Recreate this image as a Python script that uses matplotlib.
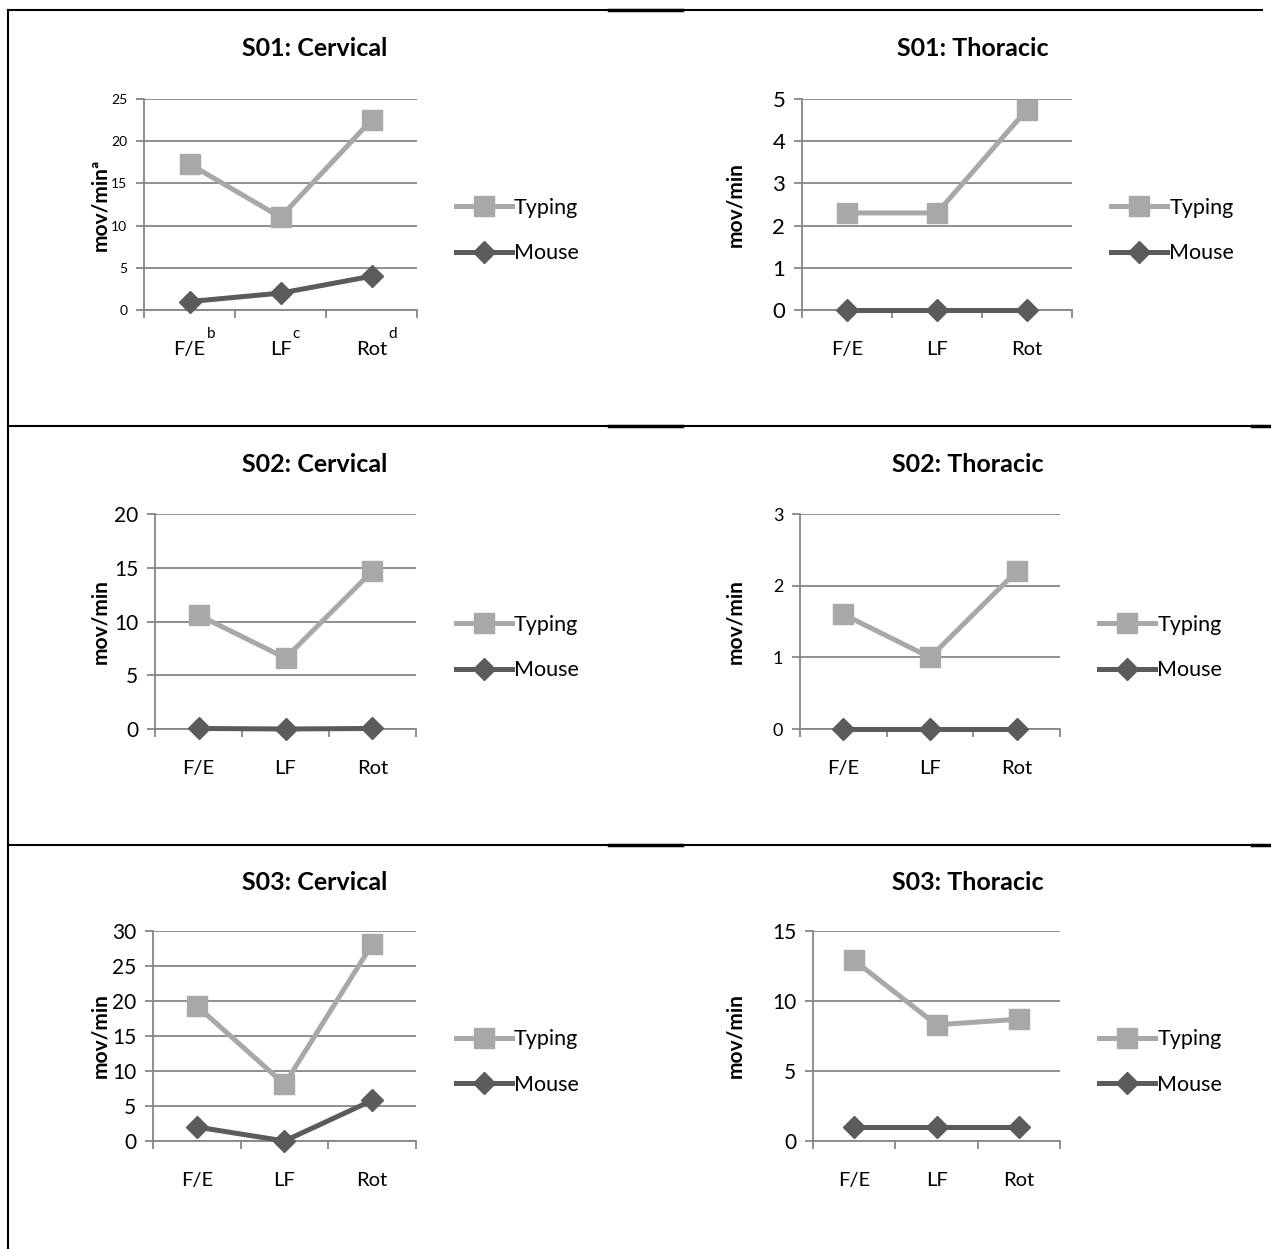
import matplotlib
matplotlib.use("Agg")
import matplotlib.pyplot as plt
from matplotlib.lines import Line2D
from matplotlib.ticker import MultipleLocator, FixedLocator

plt.rcParams['font.family'] = ['Lato', 'DejaVu Sans']

W, H = 1271, 1249

categories = ["F/E", "LF", "Rot"]
s01_supers = ["b", "c", "d"]

s01_cerv_typing = [17.3, 11.0, 22.5]
s01_cerv_mouse = [1.0, 2.0, 4.0]
s01_thor_typing = [2.3, 2.3, 4.75]
s01_thor_mouse = [0.0, 0.0, 0.0]
s02_cerv_typing = [10.6, 6.6, 14.7]
s02_cerv_mouse = [0.05, 0.0, 0.05]
s02_thor_typing = [1.6, 1.0, 2.2]
s02_thor_mouse = [0.0, 0.0, 0.0]
s03_cerv_typing = [19.3, 8.1, 28.1]
s03_cerv_mouse = [2.0, 0.0, 5.8]
s03_thor_typing = [12.9, 8.3, 8.7]
s03_thor_mouse = [1.0, 1.0, 1.0]

TYPING_C = "#a8a8a8"
MOUSE_C = "#5b5b5b"
GRID_C = "#868686"

fig = plt.figure(figsize=(W / 100, H / 100), dpi=100)


def px_axes(x0, x1, ytop, ybot):
    return fig.add_axes([x0 / W, 1 - ybot / H, (x1 - x0) / W, (ybot - ytop) / H])


def panel(box, title, title_x, title_y, typing, mouse, ymax, ystep, ylabel,
          ylabel_x, tick_fs, legend_x):
    x0, x1, ytop, ybot = box
    ax = px_axes(x0, x1, ytop, ybot)
    xs = range(len(categories))
    ax.plot(xs, typing, color=TYPING_C, lw=3.6, marker="s", ms=14,
            label="Typing", zorder=3)
    ax.plot(xs, mouse, color=MOUSE_C, lw=3.6, marker="D", ms=11,
            label="Mouse", zorder=4, clip_on=False)
    ax.set_xlim(-0.5, 2.5)
    ax.set_ylim(0, ymax)
    ax.yaxis.set_major_locator(MultipleLocator(ystep))
    ax.grid(axis="y", color=GRID_C, lw=1.3)
    ax.set_axisbelow(True)
    for s in ["top", "right"]:
        ax.spines[s].set_visible(False)
    for s in ["left", "bottom"]:
        ax.spines[s].set_color(GRID_C)
        ax.spines[s].set_linewidth(1.3)
    ax.set_xticks(list(xs))
    ax.set_xticklabels(categories, fontsize=14.5)
    ax.xaxis.set_minor_locator(FixedLocator([-0.5, 0.5, 1.5, 2.5]))
    ax.tick_params(axis="x", which="major", length=0, pad=22)
    ax.tick_params(axis="x", which="minor", length=6, width=1.3, color=GRID_C,
                   direction="out")
    ax.tick_params(axis="y", length=6, width=1.3, color=GRID_C, labelsize=tick_fs,
                   pad=6)
    fig.text(ylabel_x / W, 1 - (ytop + ybot) / 2 / H, ylabel, fontsize=15,
             fontweight="bold", rotation=90, ha="center", va="center")
    fig.text(title_x / W, 1 - title_y / H, title, fontsize=18, fontweight="bold",
             ha="center", va="center")
    ax.legend(loc="center left",
              bbox_to_anchor=(legend_x / W, 1 - ((ytop + ybot) / 2 + 26) / H),
              bbox_transform=fig.transFigure, frameon=False, fontsize=15.5,
              handlelength=2.6, handletextpad=0.1, labelspacing=1.2,
              borderaxespad=0, borderpad=0)
    return ax


panels = [
    ((144, 417, 99, 310), "S01: Cervical", 315, 48, s01_cerv_typing, s01_cerv_mouse,
     25, 5, "mov/min\u00aa", 100, 10, 456),
    ((802, 1072, 99, 310), "S01: Thoracic", 973, 48, s01_thor_typing, s01_thor_mouse,
     5, 1, "mov/min", 735, 16, 1111),
    ((155, 416, 514, 729), "S02: Cervical", 315, 465, s02_cerv_typing, s02_cerv_mouse,
     20, 5, "mov/min", 100, 15, 456),
    ((800, 1060, 514, 729), "S02: Thoracic", 968, 465, s02_thor_typing, s02_thor_mouse,
     3, 1, "mov/min", 735, 13, 1099),
    ((153, 416, 931, 1141), "S03: Cervical", 315, 883, s03_cerv_typing, s03_cerv_mouse,
     30, 5, "mov/min", 100, 15, 456),
    ((813, 1060, 931, 1141), "S03: Thoracic", 968, 883, s03_thor_typing, s03_thor_mouse,
     15, 5, "mov/min", 735, 15, 1099),
]

axes = [panel(*p) for p in panels]

# superscript footnote letters on the first chart's category labels
fig.canvas.draw()
renderer = fig.canvas.get_renderer()
for lab, sup in zip(axes[0].get_xticklabels(), s01_supers):
    bb = lab.get_window_extent(renderer)
    fig.text((bb.x1 + 1) / W, (bb.y1 + 7) / H, sup, fontsize=11,
             ha="left", va="center")

# table rules
for y in [10, 426, 845]:
    fig.add_artist(Line2D([8 / W, 1262 / W], [1 - y / H, 1 - y / H], color="black", lw=1.5))
    fig.add_artist(Line2D([609 / W, 682 / W], [1 - y / H, 1 - y / H], color="black", lw=2.5))
for y in [426, 845]:
    fig.add_artist(Line2D([1252 / W, 1271 / W], [1 - y / H, 1 - y / H], color="black", lw=2.5))
fig.add_artist(Line2D([8 / W, 8 / W], [1 - 10 / H, 0], color="black", lw=1.5))

fig.savefig("out.png", dpi=100)
